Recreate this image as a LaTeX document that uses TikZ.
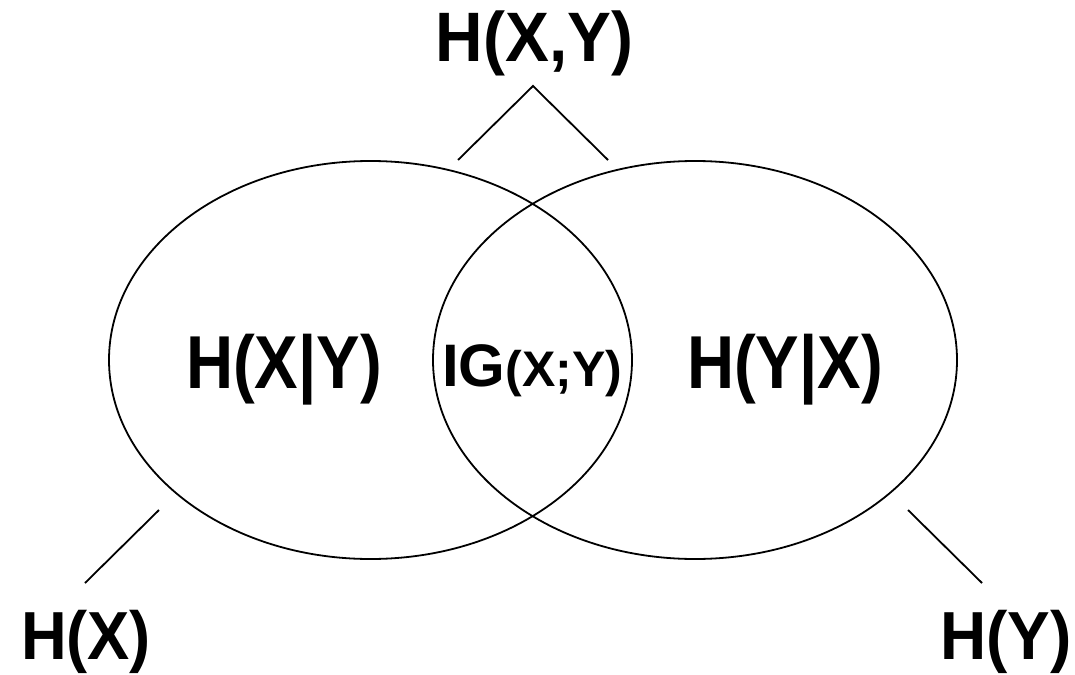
\documentclass[tikz,border=0pt]{standalone}
\usepackage{fontspec}
\setmainfont{Liberation Sans}
\begin{document}
\begin{tikzpicture}[x=1pt,y=-1pt,
  lbl/.style={inner sep=0pt,anchor=base,font=\fontsize{72}{72}\selectfont\bfseries},
  edge/.style={line width=1.8pt},
  venn/.style={line width=1.8pt}]
\useasboundingbox (0,0) rectangle (1075,674);
\draw[venn] (370.5,360) ellipse [x radius=261.5, y radius=199];
\draw[venn] (695,360) ellipse [x radius=262, y radius=199];
\node[lbl,xscale=0.94,font=\fontsize{70}{70}\selectfont\bfseries] (hxy) at (534.5,62) {H(X,Y)};
\node[lbl,xscale=0.87,font=\fontsize{75}{75}\selectfont\bfseries] (hxgy) at (284,388) {H(X|Y)};
\node[lbl,xscale=0.87,font=\fontsize{75}{75}\selectfont\bfseries] (hygx) at (785,388) {H(Y|X)};
\node[lbl,font=\fontsize{60}{60}\selectfont\bfseries] (ig) at (532,386) {IG\fontsize{50}{50}\selectfont(X;Y)};
\node[lbl,xscale=0.93,font=\fontsize{68}{68}\selectfont\bfseries] (hx) at (86,659) {H(X)};
\node[lbl,xscale=0.94,font=\fontsize{68}{68}\selectfont\bfseries] (hy) at (1006,659) {H(Y)};
\coordinate (apex) at (533,86);
\coordinate (tl) at (458,160);
\coordinate (tr) at (608,160);
\coordinate (l1) at (159,510);
\coordinate (l2) at (85,583);
\coordinate (r1) at (908,510);
\coordinate (r2) at (982,583);
\draw[edge] (tl) -- (apex) -- (tr);
\draw[edge] (l1) -- (l2);
\draw[edge] (r1) -- (r2);
\end{tikzpicture}
\end{document}
